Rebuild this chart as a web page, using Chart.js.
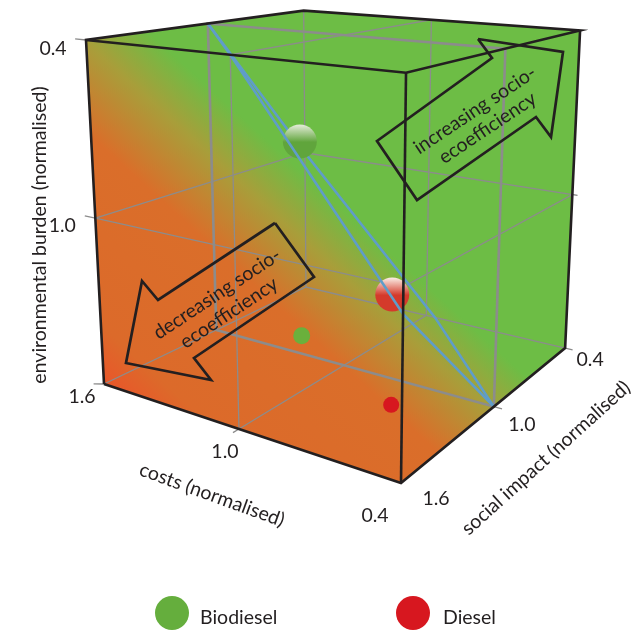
<!DOCTYPE html>
<html>
<head>
<meta charset="utf-8">
<style>
  html, body { margin: 0; padding: 0; background: #fff; }
  canvas { display: block; }
</style>
<script src="https://cdn.jsdelivr.net/npm/chart.js@4/dist/chart.umd.min.js"></script>
</head>
<body>
<canvas id="myChart" width="633" height="633"></canvas>
<script>
// values (all normalised, 1.6 = worst, 0.4 = best)
const products = ["Biodiesel", "Diesel"];
const costs = [1.29, 0.69];
const social = [0.86, 1.18];
const burden = [0.83, 1.21];
const axisTicks = [1.6, 1.0, 0.4];
const tickText = ["1.6", "1.0", "0.4"];

const lo = 1.6, mid = 1.0, hi = 0.4;
const green = "#6DBD45";
const ink = "#231F20";
const gray = "#8C8C8C";
const blue = "#5F9DC9";
const font = "Lato";

// the cube view: where the three edges from the (1.6,1.6,1.6) corner land, and their depth
const camO = [104, 384];
const camU = [401, 483, 0.833];
const camV = [306, 287, 1.252];
const camW = [86, 40, 0.9307];

function project(c, s, e) {
  const u = (lo - c) / (lo - hi), v = (lo - s) / (lo - hi), w = (lo - e) / (lo - hi);
  const d = 1 + u * (camU[2] - 1) + v * (camV[2] - 1) + w * (camW[2] - 1);
  const px = i => camO[i] + u * (camU[2] * camU[i] - camO[i]) + v * (camV[2] * camV[i] - camO[i]) + w * (camW[2] * camW[i] - camO[i]);
  return { x: px(0) / d, y: px(1) / d };
}
const path = pts => pts.map(p => project(p[0], p[1], p[2]));

// arrows, in chart units
const arrowUp = [[478, 39], [563, 52], [551, 137], [536, 117], [417, 200], [377, 141], [492, 58], [478, 39]];
const arrowDown = [[275, 223], [314, 277], [194, 358], [211, 380], [126, 363], [142, 281], [158, 300], [275, 223]];

const notes = [
  ["increasing socio-", 475, 110, -33.7, 19.5],
  ["ecoefficiency", 487.5, 128, -33.7, 19.5],
  ["decreasing socio-", 217, 294, -33.5, 19.5],
  ["ecoefficiency", 229, 313, -33.5, 19.5],
  ["environmental burden (normalised)", 40, 235, -90, 19.5],
  ["costs (normalised)", 212, 495, 20, 19.5],
  ["social impact (normalised)", 546, 458, -42, 19.5]
];
const envOffset = [[-22, 13], [-33, 8], [-33, 9]];
const costOffset = [null, [-14, 23], [-26, 33]];
const socialOffset = [[35, 16], [28, 18], [25, 12]];

// little overshoots of the grid at the cube corners: from, to
const stubs = [
  [[lo, lo, hi], [lo + 0.05, lo, hi]],
  [[lo, lo, mid], [lo + 0.05, lo, mid]],
  [[lo, lo, lo], [lo + 0.03, lo + 0.02, lo]],
  [[mid, lo, lo], [mid, lo + 0.03, lo]],
  [[hi, lo, lo], [hi, lo, lo - 0.03]],
  [[hi, mid, lo], [hi - 0.03, mid, lo]],
  [[hi, hi, lo], [hi - 0.03, hi, lo]],
  [[hi, hi, mid], [hi - 0.02, hi, mid]]
];

function line(label, pts, color, width, order) {
  return { label: label, data: pts, showLine: true, tension: 0, pointRadius: 0, borderColor: color, borderWidth: width, order: order, borderJoinStyle: "miter" };
}

function sphereFill(top, middle) {
  return function (ctx) {
    if (ctx.type !== "data") return middle;
    const y = ctx.chart.scales.y.getPixelForValue(ctx.raw.y);
    if (!isFinite(y)) return middle;
    const g = ctx.chart.ctx.createLinearGradient(0, y - 17, 0, y + 17);
    g.addColorStop(0, top);
    g.addColorStop(0.52, middle);
    g.addColorStop(1, middle);
    return g;
  };
}

function dot(label, i, e, radius, fill, order) {
  return { label: label, data: [project(costs[i], social[i], e)], pointRadius: radius, pointBackgroundColor: fill, pointBorderWidth: 0, order: order };
}

const silhouette = path([[lo, lo, lo], [lo, lo, hi], [lo, hi, hi], [hi, hi, hi], [hi, hi, lo], [hi, lo, lo], [lo, lo, lo]]);

const datasets = [
  line("cube back", path([[lo, hi, lo], [lo, hi, hi]]), gray, 1.3, 20),
  line("floor back", path([[lo, lo, lo], [lo, hi, lo], [hi, hi, lo]]), gray, 1.3, 20),
  line("plane costs 1.0", path([[mid, lo, lo], [mid, hi, lo], [mid, hi, hi], [mid, lo, hi], [mid, lo, lo]]), gray, 1.3, 20),
  line("plane burden 1.0", path([[lo, lo, mid], [lo, hi, mid], [hi, hi, mid], [hi, lo, mid], [lo, lo, mid]]), gray, 1.3, 20),
  line("plane social 1.0", path([[lo, mid, lo], [lo, mid, hi], [hi, mid, hi], [hi, mid, lo], [lo, mid, lo]]), gray, 2.6, 19),
  dot("Biodiesel floor", 0, lo, 8.5, "#6AB03C", 18),
  dot("Diesel floor", 1, lo, 8, "#D7171F", 18),
  line("plane back", path([[lo, mid, hi], [lo, hi, mid], [0.96, hi, lo], [hi, mid, lo]]), blue, 2.6, 17),
  dot("Biodiesel", 0, burden[0], 17, sphereFill("#E6EDDB", "#60A53C"), 16),
  dot("Diesel", 1, burden[1], 17, sphereFill("#FBF0E8", "#D43A2B"), 16),
  line("plane front", path([[lo, mid, hi], [mid, lo, hi], [hi, lo, 1.08], [hi, mid, lo]]), blue, 2.6, 15),
  line("cube top", path([[lo, lo, lo], [lo, lo, hi], [lo, hi, hi], [hi, hi, hi], [hi, lo, hi], [lo, lo, hi]]), ink, 2.6, 10),
  line("cube front", path([[lo, lo, lo], [hi, lo, lo], [hi, hi, lo], [hi, hi, hi]]), ink, 2.6, 10),
  line("cube corner", path([[hi, lo, lo], [hi, lo, hi]]), ink, 2.6, 10),
  line("arrow up", arrowUp.map(p => ({ x: p[0], y: p[1] })), ink, 2.7, 5),
  line("arrow down", arrowDown.map(p => ({ x: p[0], y: p[1] })), ink, 2.7, 5),
  { label: "key", data: [{ x: 172, y: 613 }, { x: 413, y: 613 }], pointRadius: 17, pointBackgroundColor: ["#65AE3D", "#D7171F"], pointBorderWidth: 0, order: 1 }
].concat(stubs.map((s, i) => line("stub " + i, path(s), gray, 1.3, 21)));

function put(c, text, x, y, angle, size, align) {
  c.save();
  c.translate(x, y);
  c.rotate(angle * Math.PI / 180);
  c.font = size + "px " + font;
  c.fillStyle = ink;
  c.textAlign = align || "center";
  c.textBaseline = "middle";
  c.fillText(text, 0, 0);
  c.restore();
}

const cubeFace = {
  id: "cubeFace",
  beforeDatasetsDraw(chart) {
    const c = chart.ctx, sx = chart.scales.x, sy = chart.scales.y;
    const g = c.createLinearGradient(sx.getPixelForValue(-75), sy.getPixelForValue(220), sx.getPixelForValue(120), sy.getPixelForValue(6));
    g.addColorStop(0, "#E9562A");
    g.addColorStop(0.14, "#DC6A2A");
    g.addColorStop(0.6, "#DA6E2A");
    g.addColorStop(0.83, "#A89E3A");
    g.addColorStop(1, green);
    c.save();
    c.beginPath();
    silhouette.forEach((p, i) => {
      const x = sx.getPixelForValue(p.x), y = sy.getPixelForValue(p.y);
      if (i) c.lineTo(x, y); else c.moveTo(x, y);
    });
    c.closePath();
    c.fillStyle = g;
    c.fill();
    c.restore();
  }
};

const labels = {
  id: "labels",
  afterDatasetsDraw(chart) {
    const c = chart.ctx, sx = chart.scales.x, sy = chart.scales.y;
    notes.forEach(n => put(c, n[0], sx.getPixelForValue(n[1]), sy.getPixelForValue(n[2]), n[3], n[4]));
    axisTicks.forEach((t, i) => {
      const e = project(lo, lo, t);
      put(c, tickText[i], sx.getPixelForValue(e.x + envOffset[i][0]), sy.getPixelForValue(e.y + envOffset[i][1]), 0, 19.5);
      if (costOffset[i]) {
        const p = project(t, lo, lo);
        put(c, tickText[i], sx.getPixelForValue(p.x + costOffset[i][0]), sy.getPixelForValue(p.y + costOffset[i][1]), 0, 19.5);
      }
      const s = project(hi, t, lo);
      put(c, tickText[i], sx.getPixelForValue(s.x + socialOffset[i][0]), sy.getPixelForValue(s.y + socialOffset[i][1]), 0, 19.5);
    });
    put(c, products[0], sx.getPixelForValue(200), sy.getPixelForValue(618), 0, 19.5, "left");
    put(c, products[1], sx.getPixelForValue(443), sy.getPixelForValue(618), 0, 19.5, "left");
  }
};

new Chart("myChart", {
  type: "scatter",
  data: { datasets: datasets },
  plugins: [cubeFace, labels],
  options: {
    responsive: false,
    animation: false,
    layout: { padding: 0, autoPadding: false },
    plugins: { legend: { display: false }, tooltip: { enabled: false } },
    scales: {
      x: { type: "linear", display: false, min: 0, max: 633 },
      y: { type: "linear", display: false, min: 0, max: 633, reverse: true }
    }
  }
});
</script>
</body>
</html>
